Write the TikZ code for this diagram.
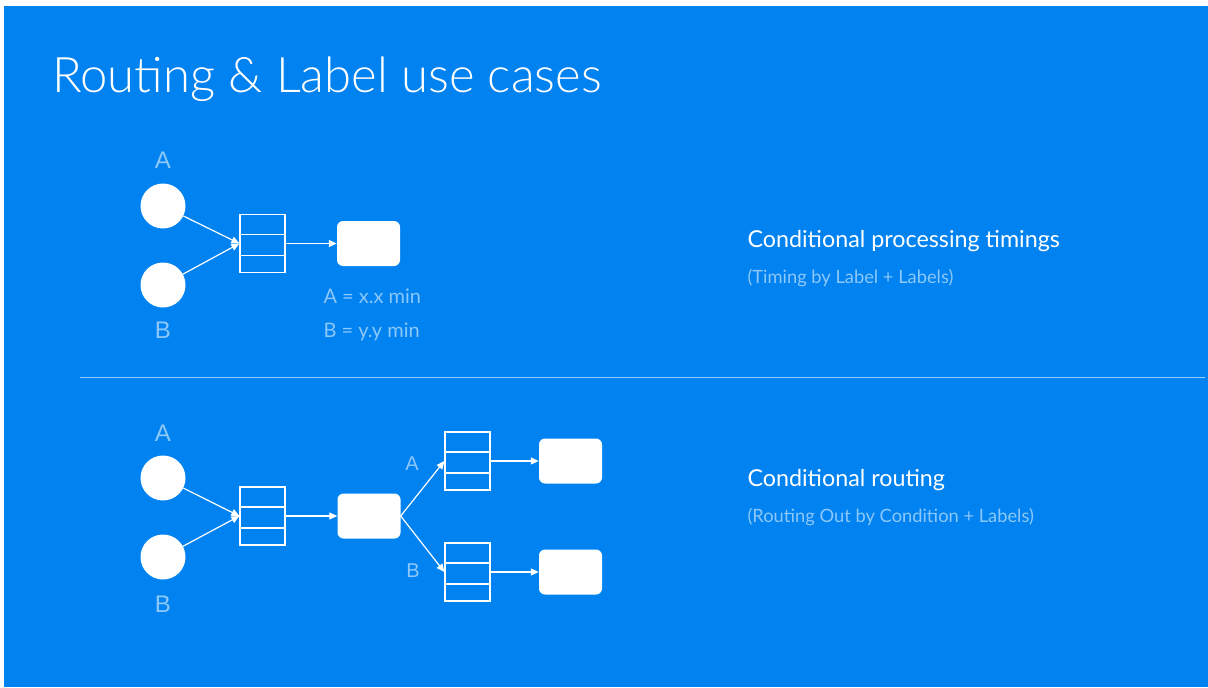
\documentclass[tikz,border=0pt]{standalone}
\usepackage{fontspec}
\setmainfont{Lato}
\newfontfamily\titlefont{Lato Light}
\newfontfamily\labfont{Liberation Sans}
\usetikzlibrary{arrows.meta}
\definecolor{bg}{RGB}{0,130,240}
\definecolor{fade}{RGB}{140,200,250}
\definecolor{rule}{RGB}{150,205,250}
\tikzset{
  dot/.style={circle, fill=white, minimum size=45pt, inner sep=0pt},
  queue/.style={draw=white, line width=1.2pt, minimum width=45pt, minimum height=58pt, inner sep=0pt,
    path picture={\draw[white,line width=1.2pt]
      ([yshift=-20pt]path picture bounding box.north west) -- ([yshift=-20pt]path picture bounding box.north east)
      ([yshift=-41pt]path picture bounding box.north west) -- ([yshift=-41pt]path picture bounding box.north east);}},
  proc/.style={fill=white, rounded corners=6pt, minimum width=63pt, minimum height=45pt, inner sep=0pt},
  arr/.style={white, line width=1.2pt, -{Triangle[length=8pt,width=7pt]}},
  lab/.style={text=fade, font=\labfont\fontsize{24}{28}\selectfont},
  small/.style={text=fade, font=\fontsize{20}{24}\selectfont},
  head/.style={text=white, anchor=west, font=\fontsize{23.3}{27}\selectfont},
  sub/.style={text=fade, anchor=west, font=\fontsize{18.3}{22}\selectfont},
}
\begin{document}
\begin{tikzpicture}[x=1pt,y=-1pt]
\useasboundingbox (0,0) rectangle (1208,688);
\fill[white] (0,0) rectangle (1208,688);
\fill[bg] (4,6) rectangle (1208,687);
\node[text=white, anchor=base west, inner sep=0pt, font=\titlefont\fontsize{49}{58}\selectfont] (title) at (52,92) {Routing \& Label use cases};
\coordinate (r1) at (80,377);
\coordinate (r2) at (1205,377);
\draw[rule, line width=1pt] (r1) -- (r2);
% top diagram
\node[lab] (la1) at (163,160) {A};
\node[dot] (a1) at (163,206) {};
\node[dot] (b1) at (163,285) {};
\node[lab] (lb1) at (163,330) {B};
\node[queue] (q1) at (262.5,243.5) {};
\node[proc] (p1) at (368.5,243.5) {};
\draw[arr] (a1) -- (q1.west);
\draw[arr] (b1) -- (q1.west);
\draw[arr] (q1.east) -- (p1.west);
\node[small, anchor=west] (t1) at (320,296) {A = x.x min};
\node[small, anchor=west] (t2) at (320,332) {B = y.y min};
\node[head] (h1) at (744,241) {Conditional processing timings};
\node[sub] (s1) at (744,278) {(Timing by Label + Labels)};
% bottom diagram
\node[lab] (la2) at (163,433) {A};
\node[dot] (a2) at (163,478) {};
\node[dot] (b2) at (163,557) {};
\node[lab] (lb2) at (163,604) {B};
\node[queue] (q2) at (262.5,516) {};
\node[proc] (p2) at (369,516) {};
\node[queue] (q3) at (467.5,461) {};
\node[queue] (q4) at (467.5,572) {};
\node[proc] (o1) at (570.5,461) {};
\node[proc] (o2) at (570.5,572) {};
\draw[arr] (a2) -- (q2.west);
\draw[arr] (b2) -- (q2.west);
\draw[arr] (q2.east) -- (p2.west);
\draw[arr] (p2.east) -- (q3.west);
\draw[arr] (p2.east) -- (q4.west);
\draw[arr] (q3.east) -- (o1.west);
\draw[arr] (q4.east) -- (o2.west);
\node[lab, font=\labfont\fontsize{20}{24}\selectfont] (ea) at (412,464) {A};
\node[lab, font=\labfont\fontsize{20}{24}\selectfont] (eb) at (413,571) {B};
\node[head] (h2) at (744,480) {Conditional routing};
\node[sub] (s2) at (744,517) {(Routing Out by Condition + Labels)};
\end{tikzpicture}
\end{document}
